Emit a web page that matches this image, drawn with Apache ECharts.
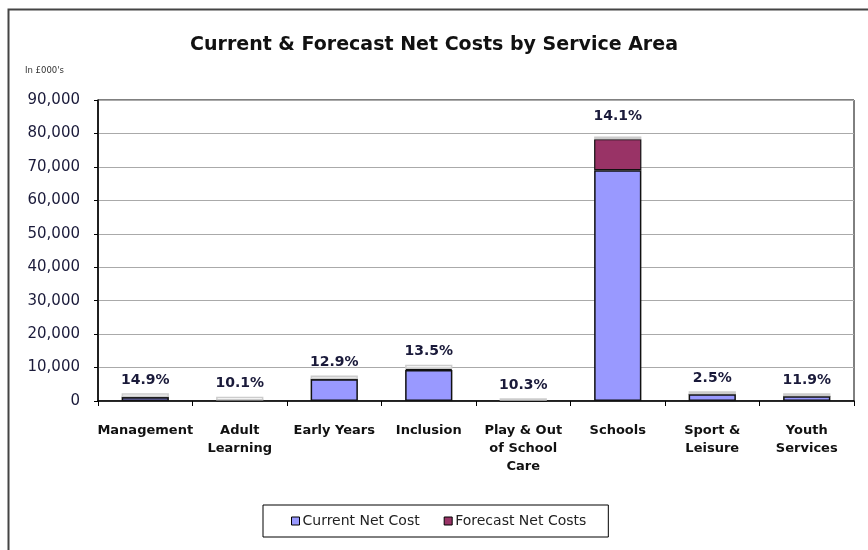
<!DOCTYPE html>
<html><head><meta charset="utf-8">
<script src="https://cdn.jsdelivr.net/npm/echarts@6/dist/echarts.min.js"></script>
<style>html,body{margin:0;padding:0;background:#fff}#c{width:868px;height:550px}</style>
</head><body><div id="c"></div>
<script>
const categories = ['Management','Adult\nLearning','Early Years','Inclusion','Play & Out\nof School\nCare','Schools','Sport &\nLeisure','Youth\nServices'];
const currentNetCost = [1100, 150, 6500, 9300, 50, 69000, 2000, 1400];
const forecastNetCosts = [100, 20, 100, 350, 20, 9300, 50, 50];
const labelCap = [1100, 1100, 1000, 1200, 750, 800, 900, 900];
const growthLabels = ['14.9%','10.1%','12.9%','13.5%','10.3%','14.1%','2.5%','11.9%'];
const yTicks = {min: 0, max: 90000, interval: 10000};

const chart = echarts.init(document.getElementById('c'));
const font = 'DejaVu Sans, Verdana, sans-serif';
chart.setOption({
  animation: false,
  graphic: [
    {type:'rect', shape:{x:8.5,y:9.5,width:900,height:600}, style:{fill:'none',stroke:'#444',lineWidth:2}},
    {type:'text', left:25, top:66, style:{text:"In £000's", font:'8.5px '+font, fill:'#333'}}
  ],
  title: {text:'Current & Forecast Net Costs by Service Area', left:'center', top:31,
    textStyle:{fontFamily:font, fontSize:19, fontWeight:'bold', color:'#111'}},
  grid: {left:98, right:14, top:100, bottom:149, show:true, borderColor:'#000', borderWidth:1},
  legend: {data:['Current Net Cost','Forecast Net Costs'], left:263, top:505,
    padding:[9,22,9,28], borderColor:'#000', borderWidth:1, itemWidth:8, itemHeight:8, itemGap:24,
    itemStyle:{borderColor:'#000', borderWidth:1},
    textStyle:{fontFamily:font, fontSize:14, color:'#222', padding:[0,0,0,-2]}, icon:'rect'},
  xAxis: {type:'category', data:categories,
    axisLine:{lineStyle:{color:'#000', width:1.5}},
    axisTick:{show:true, length:5, lineStyle:{color:'#000'}},
    axisLabel:{fontFamily:font, fontSize:13, fontWeight:'bold', color:'#111', margin:21, lineHeight:18, interval:0}},
  yAxis: {type:'value', min:yTicks.min, max:yTicks.max, interval:yTicks.interval,
    axisLine:{show:true, lineStyle:{color:'#000', width:1.5}},
    axisTick:{show:true, length:4, lineStyle:{color:'#000'}},
    splitLine:{lineStyle:{color:'#aaa', width:1}},
    axisLabel:{fontFamily:font, fontSize:15, color:'#1a1a3a', margin:18,
      formatter: v => v.toLocaleString('en-GB')}},
  series: [
    {name:'Current Net Cost', type:'bar', stack:'s', data:currentNetCost, barWidth:'50%',
      itemStyle:{color:'#9999FF', borderColor:'#111', borderWidth:1.5}},
    {name:'Forecast Net Costs', type:'bar', stack:'s', data:forecastNetCosts,
      itemStyle:{color:'#993366', borderColor:'#111', borderWidth:1.2}},
    {name:'label', type:'bar', stack:'s',
      data: labelCap.map((v, i) => categories[i] === 'Schools' ? {value: v, label: {distance: 13}} : v),
      itemStyle:{color:'#fff', borderColor:'#ccc', borderWidth:1.5},
      label:{show:true, position:'top', distance:6, fontFamily:font, fontSize:14, fontWeight:'bold', color:'#1a1a3a',
        formatter: p => growthLabels[p.dataIndex]}}
  ]
});
</script></body></html>
